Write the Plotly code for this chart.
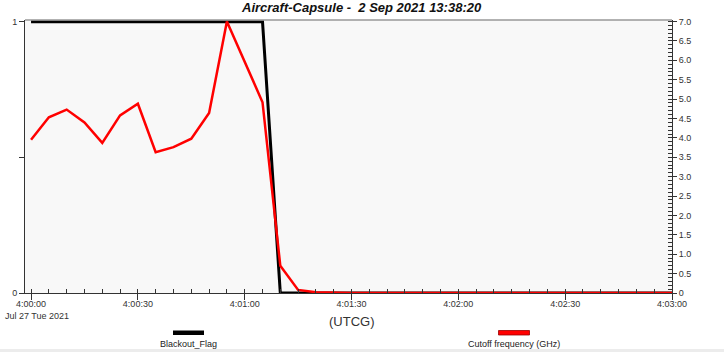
import plotly.graph_objects as go
import pandas as pd

# ---- data ----
base = pd.Timestamp("2021-07-27 04:00:00")
cutoff_secs = [0, 5, 10, 15, 20, 25, 30, 35, 40, 45, 50, 55, 65, 70, 75, 80, 90, 100, 120, 140, 160, 180]
cutoff_vals = [3.95, 4.53, 4.73, 4.40, 3.87, 4.58, 4.88, 3.63, 3.76, 3.98, 4.64, 7.0, 4.92, 0.70, 0.08, 0.02, 0.0, 0.0, 0.0, 0.0, 0.0, 0.0]
flag_secs = [0, 65, 70, 180]
flag_vals = [1, 1, 0, 0]
series_names = ["Blackout_Flag", "Cutoff frequency (GHz)"]
title_text = "Aircraft-Capsule -  2 Sep 2021 13:38:20"
x_tick_secs = [0, 30, 60, 90, 120, 150, 180]
x_tick_labels = ["4:00:00", "4:00:30", "4:01:00", "4:01:30", "4:02:00", "4:02:30", "4:03:00"]
date_label = "Jul 27 Tue 2021"
right_ticks = [0, 0.5, 1.0, 1.5, 2.0, 2.5, 3.0, 3.5, 4.0, 4.5, 5.0, 5.5, 6.0, 6.5, 7.0]
right_labels = ["0"] + [f"{v:.1f}" for v in right_ticks[1:]]
left_ticks = [0, 0.5, 1]
left_labels = ["0", "", "1"]
axis_title = "(UTCG)"

def t(s):
    return base + pd.Timedelta(seconds=s)

FONT = "Liberation Sans, Arial, sans-serif"

fig = go.Figure()
fig.add_trace(go.Scatter(x=[t(s) for s in flag_secs], y=flag_vals, mode="lines",
                         line=dict(color="#000000", width=3), name=series_names[0], yaxis="y"))
fig.add_trace(go.Scatter(x=[t(s) for s in cutoff_secs], y=cutoff_vals, mode="lines",
                         line=dict(color="#ff0000", width=2.5), name=series_names[1], yaxis="y2"))

# plot area in pixels: x 25..672, y 20..293
L, R, T, B = 25, 672, 20, 293
W, H = R - L, B - T
def px(x):
    return (x - L) / W
def py(y):
    return (B - y) / H

fig.update_layout(
    width=724, height=352,
    margin=dict(l=L, r=724 - R, t=T, b=352 - B),
    paper_bgcolor="white", plot_bgcolor="#f8f8f8",
    showlegend=False,
    font=dict(family=FONT, size=9, color="#333333"),
    xaxis=dict(
        type="date", range=[t(-1.7), t(180)], automargin=False,
        tickvals=[t(s) for s in x_tick_secs], ticktext=x_tick_labels,
        showgrid=False, zeroline=False,
        showline=True, linecolor="#333333", linewidth=1,
        ticks="outside", ticklen=6, tickcolor="#333333",
        tickfont=dict(size=9, color="#333333"),
        ticklabeloverflow="allow", ticklabelstandoff=-4,
        minor=dict(tickvals=[t(s) for s in range(0, 181, 5)], ticks="inside", ticklen=4, tickcolor="#333333", showgrid=False),
    ),
    yaxis=dict(
        range=[0, 1.006], tickvals=left_ticks, ticktext=left_labels, automargin=False,
        showgrid=False, zeroline=False,
        showline=True, linecolor="#333333", linewidth=1,
        ticks="outside", ticklen=5, tickcolor="#333333",
        tickfont=dict(size=9, color="#333333"),
    ),
    yaxis2=dict(
        range=[0, 7.04], overlaying="y", side="right", automargin=False,
        tickvals=right_ticks, ticktext=right_labels,
        showgrid=False, zeroline=False,
        showline=True, linecolor="#333333", linewidth=1,
        ticks="outside", ticklen=4, tickcolor="#333333",
        tickfont=dict(size=9, color="#333333"),
        minor=dict(dtick=0.1, ticks="inside", ticklen=4, tickcolor="#333333", showgrid=False),
    ),
)

shapes = [
    dict(type="line", xref="paper", yref="paper", x0=0, x1=1, y0=1, y1=1,
         line=dict(color="#999999", width=1.5)),
    dict(type="rect", xref="paper", yref="paper", x0=px(173), x1=px(204), y0=py(335), y1=py(330.5),
         fillcolor="#000000", line=dict(width=0)),
    dict(type="rect", xref="paper", yref="paper", x0=px(498.5), x1=px(529.5), y0=py(335), y1=py(330.5),
         fillcolor="#ff0000", line=dict(color="#990000", width=0.8)),
    dict(type="rect", xref="paper", yref="paper", x0=px(0), x1=px(724), y0=py(352), y1=py(349),
         fillcolor="#ececec", line=dict(width=0)),
]
fig.update_layout(shapes=shapes)

ann = [
    dict(text=f"<b><i>{title_text}</i></b>", x=px(362), y=py(8), xref="paper", yref="paper",
         showarrow=False, font=dict(size=13, color="#111111"), xanchor="center", yanchor="middle"),
    dict(text=axis_title, x=px(352), y=py(321), xref="paper", yref="paper",
         showarrow=False, font=dict(size=13, color="#333333"), xanchor="center", yanchor="middle"),
    dict(text=date_label, x=px(37), y=py(316), xref="paper", yref="paper",
         showarrow=False, font=dict(size=9, color="#333333"), xanchor="center", yanchor="middle"),
    dict(text=series_names[0], x=px(188.5), y=py(344), xref="paper", yref="paper",
         showarrow=False, font=dict(size=9, color="#222222"), xanchor="center", yanchor="middle"),
    dict(text=series_names[1], x=px(513.5), y=py(344), xref="paper", yref="paper",
         showarrow=False, font=dict(size=9, color="#222222"), xanchor="center", yanchor="middle"),
]
fig.update_layout(annotations=ann)

fig.write_html("out.html")
